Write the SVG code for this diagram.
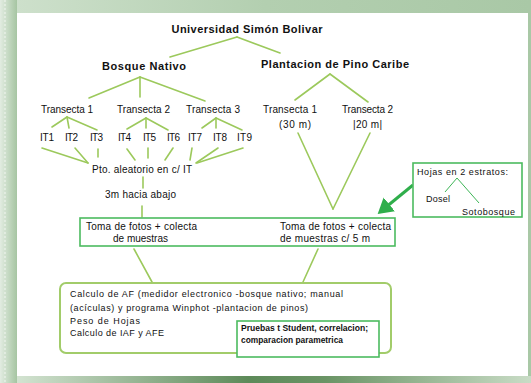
<svg xmlns="http://www.w3.org/2000/svg" width="531" height="383" viewBox="0 0 531 383">
<defs>
<linearGradient id="gTop" x1="0" y1="0" x2="1" y2="0">
<stop offset="0" stop-color="#cfe1cd"/><stop offset="0.5" stop-color="#b3cfb0"/><stop offset="1" stop-color="#a9c8a6"/>
</linearGradient>
<linearGradient id="gLeft" x1="0" y1="0" x2="1" y2="0">
<stop offset="0" stop-color="#e2ece1"/><stop offset="1" stop-color="#a6c5a2"/>
</linearGradient>
<linearGradient id="gBot" x1="0" y1="0" x2="1" y2="0">
<stop offset="0" stop-color="#d3e3d1"/><stop offset="0.45" stop-color="#5d8a59"/><stop offset="0.6" stop-color="#6a9465"/><stop offset="1" stop-color="#c9dcc6"/>
</linearGradient>
<marker id="ah" markerWidth="6" markerHeight="6" refX="4" refY="3" orient="auto" markerUnits="strokeWidth">
<path d="M0,0 L5,3 L0,6 z" fill="#2fae4b"/>
</marker>
<style>
text{font-family:"Liberation Sans",Arial,sans-serif;fill:#111;}
.b{font-weight:bold;font-size:11px;}
.n{font-size:10px;}
.s{font-size:9px;}
.k{font-weight:bold;}
.ln{stroke:#9cc95c;stroke-width:1.6;fill:none;stroke-linecap:round;}
.lt{stroke:#3db556;stroke-width:1;fill:none;}
.box{fill:#fff;stroke:#4cbb5f;stroke-width:1.6;}
.rbox{fill:#fff;stroke:#a2cc6a;stroke-width:2;}
</style>
</defs>
<!-- background -->
<rect x="0" y="0" width="531" height="383" fill="url(#gTop)"/>
<rect x="0" y="0" width="17" height="383" fill="url(#gLeft)"/>
<line x1="5" y1="0" x2="5" y2="383" stroke="#f2f6f1" stroke-width="1" stroke-dasharray="2,2"/>
<rect x="17" y="376" width="514" height="7" fill="url(#gBot)"/>
<rect x="17" y="13" width="511" height="363" fill="#fff"/>

<g id="connectors">
<line class="ln" x1="237" y1="37" x2="170" y2="57"/>
<line class="ln" x1="237" y1="37" x2="280" y2="53"/>
<line class="ln" x1="140" y1="77" x2="89" y2="98"/>
<line class="ln" x1="140" y1="77" x2="140" y2="97"/>
<line class="ln" x1="140" y1="77" x2="205" y2="101"/>
<line class="ln" x1="330" y1="74" x2="295" y2="100"/>
<line class="ln" x1="330" y1="74" x2="368" y2="102"/>
<line class="ln" x1="67" y1="117" x2="52" y2="127"/>
<line class="ln" x1="67" y1="117" x2="69" y2="128"/>
<line class="ln" x1="67" y1="117" x2="97" y2="130"/>
<line class="ln" x1="146" y1="118" x2="127" y2="129"/>
<line class="ln" x1="146" y1="118" x2="146" y2="128"/>
<line class="ln" x1="146" y1="118" x2="168" y2="130"/>
<line class="ln" x1="216" y1="118" x2="202" y2="128"/>
<line class="ln" x1="216" y1="118" x2="216" y2="128"/>
<line class="ln" x1="216" y1="118" x2="242" y2="130"/>
<line class="ln" x1="42" y1="148" x2="88" y2="163"/>
<line class="ln" x1="75" y1="148" x2="88" y2="163"/>
<line class="ln" x1="98" y1="149" x2="98" y2="157"/>
<line class="ln" x1="127" y1="149" x2="135" y2="160"/>
<line class="ln" x1="148" y1="148" x2="148" y2="158"/>
<line class="ln" x1="173" y1="148" x2="165" y2="160"/>
<line class="ln" x1="192" y1="148" x2="190" y2="160"/>
<line class="ln" x1="218" y1="148" x2="196" y2="163"/>
<line class="ln" x1="243" y1="148" x2="197" y2="163"/>
<line class="ln" x1="143" y1="177" x2="143" y2="188"/>
<line class="ln" x1="142" y1="206" x2="142" y2="217"/>
<line class="ln" x1="298" y1="133" x2="333" y2="209"/>
<line class="ln" x1="370" y1="133" x2="333" y2="209"/>
<line class="ln" x1="134" y1="249" x2="152" y2="282"/>
<line class="ln" x1="318" y1="249" x2="303" y2="282"/>
<line stroke="#2fae4b" stroke-width="3" x1="413" y1="185" x2="380" y2="212" marker-end="url(#ah)"/>
<line class="ln" x1="152" y1="321" x2="233" y2="324"/>
<line class="ln" x1="167" y1="335" x2="233" y2="324"/>
<line class="ln" x1="217" y1="317" x2="233" y2="324"/>
</g>

<g id="n-usb"><text class="b" x="247" y="33" text-anchor="middle" textLength="151">Universidad Simón Bolivar</text></g>
<g id="n-bosque"><text class="b" x="144" y="70" text-anchor="middle" textLength="84">Bosque Nativo</text></g>
<g id="n-plant"><text class="b" x="335" y="68" text-anchor="middle" textLength="148">Plantacion de Pino Caribe</text></g>

<g id="n-t1"><text class="n" x="41" y="113" textLength="52">Transecta 1</text></g>
<g id="n-t2"><text class="n" x="117" y="113" textLength="53">Transecta 2</text></g>
<g id="n-t3"><text class="n" x="186" y="113" textLength="54">Transecta 3</text></g>
<g id="n-pt1"><text class="n" x="263" y="113" textLength="54">Transecta 1</text><text class="n" x="279" y="128" textLength="32">(30 m)</text></g>
<g id="n-pt2"><text class="n" x="342" y="113" textLength="51">Transecta 2</text><text class="n" x="353" y="128" textLength="29">|20 m|</text></g>

<g id="n-it">
<text class="n" x="40" y="141" textLength="14">IT1</text>
<text class="n" x="65" y="141" textLength="13">IT2</text>
<text class="n" x="90" y="141" textLength="13">IT3</text>
<text class="n" x="118" y="141" textLength="13">IT4</text>
<text class="n" x="143" y="141" textLength="13">IT5</text>
<text class="n" x="167" y="141" textLength="13">IT6</text>
<text class="n" x="188" y="141" textLength="14">IT7</text>
<text class="n" x="213" y="141" textLength="14">IT8</text>
<text class="n" x="237" y="141" textLength="15">IT9</text>
</g>

<g id="n-pto"><text class="n" x="92" y="173" textLength="100">Pto. aleatorio en c/ IT</text></g>
<g id="n-3m"><text class="n" x="105" y="198" textLength="71">3m hacia abajo</text></g>

<g id="n-toma">
<rect class="box" x="80" y="218" width="315" height="28"/>
<text class="n" x="86" y="230" textLength="111">Toma de fotos + colecta</text>
<text class="n" x="113" y="242" textLength="55">de muestras</text>
<text class="n" x="280" y="230" textLength="111">Toma de fotos + colecta</text>
<text class="n" x="280" y="242" textLength="90">de muestras c/ 5 m</text>
</g>

<g id="n-hojas">
<rect class="box" x="413" y="163" width="109" height="54"/>
<text class="s" x="417" y="175" textLength="91">Hojas en 2 estratos:</text>
<line class="lt" x1="457" y1="178" x2="445" y2="192"/>
<line class="lt" x1="457" y1="178" x2="479" y2="203"/>
<text class="s" x="426" y="202" textLength="24">Dosel</text>
<text class="s" x="462" y="215" textLength="53">Sotobosque</text>
</g>

<g id="n-calc">
<rect class="rbox" x="60" y="283" width="331" height="70" rx="6"/>
<text class="s" x="70" y="297" textLength="273">Calculo de AF (medidor electronico -bosque nativo; manual</text>
<text class="s" x="70" y="311" textLength="238">(acículas) y programa Winphot -plantacion de pinos)</text>
<text class="s" x="70" y="324" textLength="70">Peso de Hojas</text>
<text class="s" x="70" y="336" textLength="94">Calculo de IAF y AFE</text>
</g>

<g id="n-pruebas">
<rect class="box" x="237" y="321" width="142" height="36"/>
<text class="s k" x="241" y="331" textLength="127" lengthAdjust="spacingAndGlyphs">Pruebas t Student, correlacion;</text>
<text class="s k" x="241" y="343" textLength="102" lengthAdjust="spacingAndGlyphs">comparacion parametrica</text>
</g>
</svg>
